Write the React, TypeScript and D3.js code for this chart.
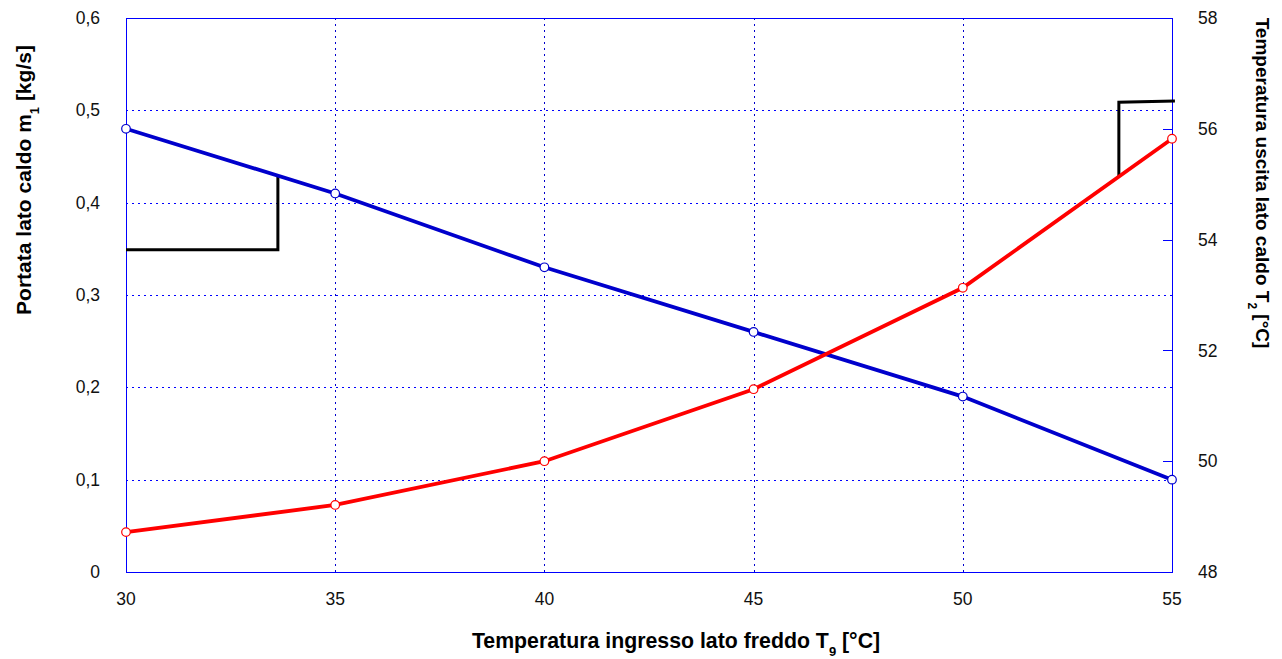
import React from "react";
import * as d3 from "d3";

const xTicks = [30, 35, 40, 45, 50, 55];
const leftTicks = [0, 0.1, 0.2, 0.3, 0.4, 0.5, 0.6];
const rightTicks = [48, 50, 52, 54, 56, 58];
const T9 = [30, 35, 40, 45, 50, 55];
const m1 = [0.48, 0.41, 0.33, 0.26, 0.19, 0.1];
const T2 = [48.72, 49.21, 50.0, 51.3, 53.13, 55.82];
// axis-indicator brackets (data coordinates)
const leftBracket: [number, number][] = [[30, 0.349], [33.63, 0.349], [33.63, 0.43]];
const rightBracket: [number, number][] = [[53.73, 55.13], [53.73, 56.48], [55.07, 56.5]];

const W = 1282, H = 659;
const M = { left: 126, right: 1172, top: 18, bottom: 572 };

export default function App() {
  const x = d3.scaleLinear().domain([30, 55]).range([M.left, M.right]);
  const yL = d3.scaleLinear().domain([0, 0.6]).range([M.bottom, M.top]);
  const yR = d3.scaleLinear().domain([48, 58]).range([M.bottom, M.top]);
  const lineL = d3.line<number>().x((_, i) => x(T9[i])).y((d) => yL(d));
  const lineR = d3.line<number>().x((_, i) => x(T9[i])).y((d) => yR(d));
  const brL = d3.line<[number, number]>().x((d) => x(d[0])).y((d) => yL(d[1]));
  const brR = d3.line<[number, number]>().x((d) => x(d[0])).y((d) => yR(d[1]));
  const fmt = (v: number) => (v === 0 ? "0" : v.toFixed(1).replace(".", ","));
  const font = "'Liberation Sans', Arial, sans-serif";
  return (
    <svg width={W} height={H} style={{ position: "absolute", left: 0, top: 0, display: "block" }} fontFamily={font}>
      <rect x={0} y={0} width={W} height={H} fill="#fff" />
      {/* grid */}
      {leftTicks.slice(1, -1).map((t) => (
        <line key={"h" + t} x1={M.left} x2={M.right} y1={Math.round(yL(t)) + 0.5} y2={Math.round(yL(t)) + 0.5}
          stroke="#0000ff" strokeDasharray="2,4" strokeWidth={1} />
      ))}
      {xTicks.slice(1, -1).map((t) => (
        <line key={"v" + t} y1={M.top} y2={M.bottom} x1={Math.round(x(t)) + 0.5} x2={Math.round(x(t)) + 0.5}
          stroke="#0000cc" strokeDasharray="2,4" strokeWidth={1} />
      ))}
      {/* right inner ticks */}
      {rightTicks.slice(1, -1).map((t) => (
        <line key={"rt" + t} x1={M.right - 9} x2={M.right} y1={Math.round(yR(t)) + 0.5} y2={Math.round(yR(t)) + 0.5}
          stroke="#0000ff" strokeWidth={1} />
      ))}
      {/* frame */}
      <rect x={M.left + 0.5} y={M.top + 0.5} width={M.right - M.left} height={M.bottom - M.top}
        fill="none" stroke="#0000ff" strokeWidth={1} />
      {/* brackets */}
      <path d={brL(leftBracket) || ""} fill="none" stroke="#000" strokeWidth={3} />
      <path d={brR(rightBracket) || ""} fill="none" stroke="#000" strokeWidth={3} />
      {/* series */}
      <path d={lineL(m1) || ""} fill="none" stroke="#0000cc" strokeWidth={3.8} />
      <path d={lineR(T2) || ""} fill="none" stroke="#ff0000" strokeWidth={3.8} />
      {m1.map((d, i) => (
        <circle key={"bm" + i} cx={x(T9[i])} cy={yL(d)} r={4.3} fill="#fff" stroke="#0000cc" strokeWidth={1.2} />
      ))}
      {T2.map((d, i) => (
        <circle key={"rm" + i} cx={x(T9[i])} cy={yR(d)} r={4.3} fill="#fff" stroke="#ff0000" strokeWidth={1.2} />
      ))}
      {/* tick labels */}
      {leftTicks.map((t) => (
        <text key={"lt" + t} x={100} y={yL(t)} dy="0.35em" textAnchor="end" fontSize={17.5} fill="#111">{fmt(t)}</text>
      ))}
      {rightTicks.map((t) => (
        <text key={"rl" + t} x={1198} y={yR(t)} dy="0.35em" textAnchor="start" fontSize={17.5} fill="#111">{t}</text>
      ))}
      {xTicks.map((t) => (
        <text key={"xl" + t} x={x(t)} y={605} textAnchor="middle" fontSize={17.5} fill="#111">{t}</text>
      ))}
      {/* axis titles */}
      <text x={676} y={648} textAnchor="middle" fontSize={21.3} fontWeight="bold" fill="#000">
        Temperatura ingresso lato freddo T<tspan fontSize={13} dy={8}>9</tspan><tspan dy={-8}> [°C]</tspan>
      </text>
      <text transform="translate(31,180) rotate(-90)" textAnchor="middle" fontSize={21} fontWeight="bold" fill="#000">
        Portata lato caldo m<tspan fontSize={13} dy={8}>1</tspan><tspan dy={-8}> [kg/s]</tspan>
      </text>
      <text transform="translate(1256,183) rotate(90)" textAnchor="middle" fontSize={19} fontWeight="bold" fill="#000">
        Temperatura uscita lato caldo T<tspan fontSize={12} dy={8}>2</tspan><tspan dy={-8}> [°C]</tspan>
      </text>
    </svg>
  );
}
